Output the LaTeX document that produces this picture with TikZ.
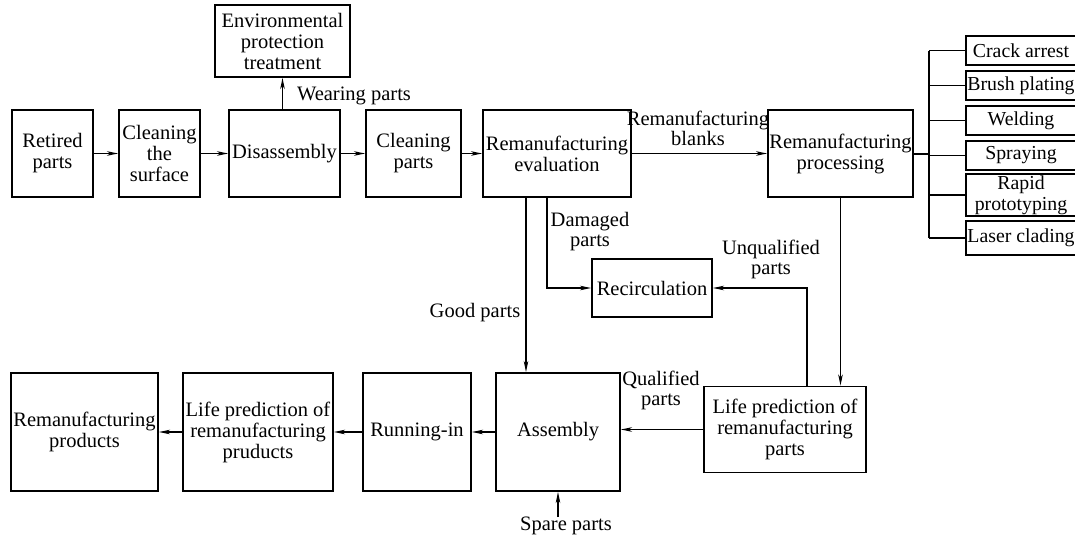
\documentclass[tikz,border=0pt]{standalone}
\usepackage{fontspec}
\setmainfont{Liberation Serif}
\usetikzlibrary{arrows.meta}
\begin{document}
\begin{tikzpicture}[x=1pt,y=-1pt,
  box/.style={draw, line width=1.9pt, inner sep=0pt, align=center, anchor=center,
    font=\fontsize{20.5}{21}\selectfont},
  tech/.style={box, minimum width=110pt, font=\fontsize{19.8}{21}\selectfont},
  lbl/.style={inner sep=0pt, align=center, font=\fontsize{20.5}{20}\selectfont},
  conn/.style={line width=1.2pt},
  arr/.style={conn, -{Stealth[length=11pt,width=4.5pt,inset=3pt]}}]
\clip (0,0) rectangle (1075,541);
\fill[white] (0,0) rectangle (1075,541);
% top row
\node[box, minimum width=81pt, minimum height=87pt] (ret) at (52.5,153.5) {Retired\\parts};
\node[box, minimum width=81pt, minimum height=87pt] (cls) at (159.5,153.5) {Cleaning\\the\\surface};
\node[box, minimum width=111pt, minimum height=87pt] (dis) at (284.5,153.5) {Disassembly};
\node[box, minimum width=135pt, minimum height=72pt] (env) at (282.5,41) {Environmental\\protection\\treatment};
\node[box, minimum width=95pt, minimum height=87pt] (clp) at (413.5,153.5) {Cleaning\\parts};
\node[box, minimum width=148pt, minimum height=87pt] (eva) at (557,153.5) {Remanufacturing\\evaluation};
\node[box, minimum width=145pt, minimum height=87pt] (pro) at (840.5,153.5) {Remanufacturing\\processing};
% right list
\node[tech, minimum height=29pt] (r1) at (1021,50.5) {Crack arrest};
\node[tech, minimum height=29pt] (r2) at (1021,85.5) {Brush plating};
\node[tech, minimum height=29pt] (r3) at (1021,120.5) {Welding};
\node[tech, minimum height=29pt] (r4) at (1021,155.5) {Spraying};
\node[tech, minimum height=42pt] (r5) at (1021,195) {Rapid\\prototyping};
\node[tech, minimum height=34pt] (r6) at (1021,238) {Laser clading};
\coordinate (bus) at (929,154);
\draw[conn] (pro.east |- bus) -- (bus);
\draw[conn] (bus |- r1.west) -- (bus |- r6.west);
\foreach \r in {r1,r2,r3,r4,r5,r6} \draw[conn] (bus |- \r.west) -- (\r.west);
% middle
\node[box, minimum width=120pt, minimum height=58pt] (rec) at (652,288) {Recirculation};
% bottom row
\node[box, minimum width=147pt, minimum height=118pt] (rmp) at (84.5,432) {Remanufacturing\\products};
\node[box, minimum width=150pt, minimum height=118pt] (lpp) at (258,432) {Life prediction of\\remanufacturing\\pruducts};
\node[box, minimum width=108pt, minimum height=118pt] (run) at (417,432) {Running-in};
\node[box, minimum width=124pt, minimum height=118pt] (asm) at (558,432) {Assembly};
\node[box, minimum width=162pt, minimum height=86pt] (lpr) at (785,429.5) {Life prediction of\\remanufacturing\\parts};
% top connectors
\draw[arr] (ret) -- (cls);
\draw[arr] (cls) -- (dis);
\draw[arr] (dis) -- (clp);
\draw[arr] (clp) -- (eva);
\draw[arr] (eva) -- (pro);
\draw[arr] (dis.north -| env.south) -- (env.south);
% evaluation down
\draw[arr] (eva.south -| asm.north) ++(-32,0) coordinate (g1) -- (g1 |- asm.north);
\coordinate (d1) at (547,197);
\draw[arr] (d1) |- (rec.west);
\coordinate (u1) at (807,386);
\draw[arr] (lpr.north -| u1) |- (rec.east);
\draw[arr] (pro.south) -- (lpr.north -| pro.south);
% bottom connectors
\draw[arr] (lpr.west) -- (asm.east |- lpr.west);
\draw[arr] (asm) -- (run);
\draw[arr] (run) -- (lpp);
\draw[arr] (lpp) -- (rmp);
\coordinate (sp) at (558,517);
\draw[arr] (sp) -- (asm.south);
% labels
\node[lbl] (lw) at (354,96) {Wearing parts};
\node[lbl] (lb) at (698,128) {Remanufacturing\\blanks};
\node[lbl] (ld) at (590,232) {Damaged\\parts};
\node[lbl] (lu) at (771,259) {Unqualified\\parts};
\node[lbl] (lg) at (475,313) {Good parts};
\node[lbl] (lq) at (661,390) {Qualified\\parts};
\node[lbl] (ls) at (566,526) {Spare parts};
\end{tikzpicture}
\end{document}
